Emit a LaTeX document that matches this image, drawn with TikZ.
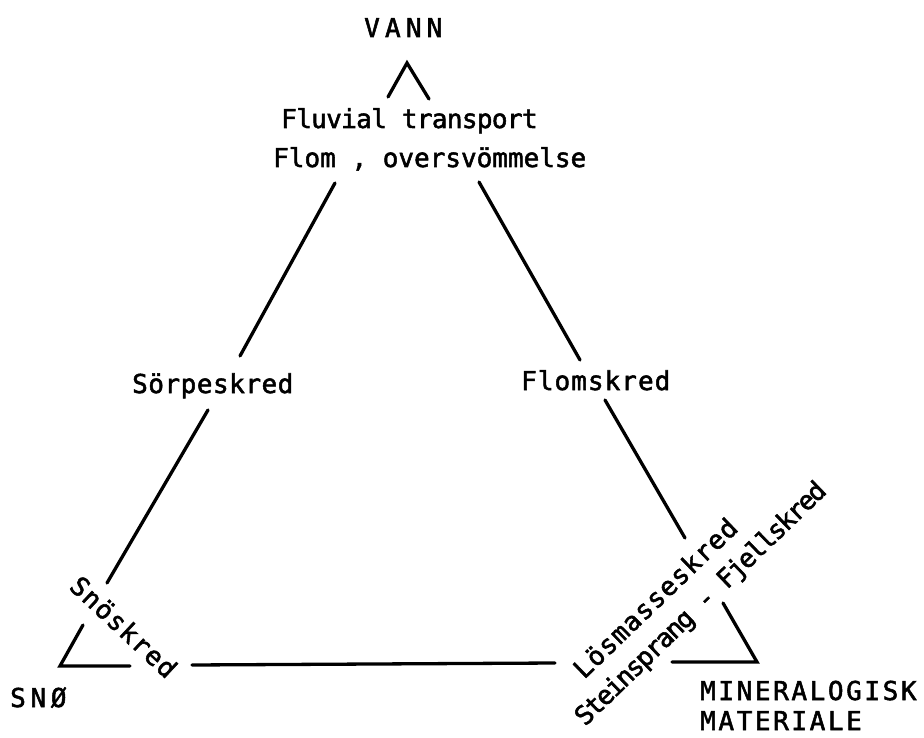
\documentclass[tikz,border=0pt]{standalone}
\usepackage{fontspec}
\setmainfont{DejaVu Sans}
\newfontfamily\labfont{DejaVu Sans Mono}[FakeBold=2]
\newcommand{\lsp}[1]{\labfont\fontsize{26}{30}\selectfont\addfontfeature{LetterSpace=#1}}
\begin{document}
\begin{tikzpicture}[x=1pt,y=-1pt,
  lbl/.style={inner sep=0pt, anchor=base west},
  side/.style={line width=3.3pt, line cap=round, line join=miter}]
\useasboundingbox (0,0) rectangle (924,738);
% labels
\node[lbl, font=\lsp{20}] (vann) at (364,37) {VANN};
\node[lbl, font=\lsp{-2.5}] (fluv) at (281,128) {Fluvial transport};
\node[lbl, font=\lsp{0}] (flom) at (273,167) {Flom , oversvömmelse};
\node[lbl, font=\lsp{2}] (sorp) at (132,393) {Sörpeskred};
\node[lbl, font=\lsp{4}] (flomskred) at (521,390) {Flomskred};
\node[lbl, font=\lsp{5}, rotate=-43] (sno) at (68,588) {Snöskred};
\node[lbl, font=\lsp{18}] (snoe) at (10,707) {SNØ};
\node[lbl, font=\lsp{4}, rotate=44] (los) at (584,680) {Lösmasseskred};
\node[lbl, font=\lsp{-7}, rotate=44] (stein) at (585,727) {Steinsprang - Fjellskred};
\node[lbl, font=\lsp{10}] (min) at (700,700) {MINERALOGISK};
\node[lbl, font=\lsp{10}] (mat) at (700,730) {MATERIALE};
% vertices and segment ends
\coordinate (A) at (407,63);
\coordinate (A1) at (388,97);
\coordinate (A2) at (429,99);
\coordinate (L) at (60,666);
\coordinate (R) at (757,662);
\coordinate (l1) at (335,183);
\coordinate (l2) at (240,356);
\coordinate (l3) at (208,410);
\coordinate (l4) at (107,583);
\coordinate (l5) at (83,625);
\coordinate (b1) at (130,666);
\coordinate (b2) at (192,665);
\coordinate (b3) at (555,663);
\coordinate (b4) at (672,662);
\coordinate (r1) at (479,182);
\coordinate (r2) at (580,360);
\coordinate (r3) at (605,400);
\coordinate (r4) at (685,538);
\coordinate (r5) at (723,603);
% sides
\draw[side] (A1) -- (A) -- (A2);
\draw[side] (l1) -- (l2);
\draw[side] (l3) -- (l4);
\draw[side] (l5) -- (L) -- (b1);
\draw[side] (b2) -- (b3);
\draw[side] (b4) -- (R) -- (r5);
\draw[side] (r1) -- (r2);
\draw[side] (r3) -- (r4);
\end{tikzpicture}
\end{document}
